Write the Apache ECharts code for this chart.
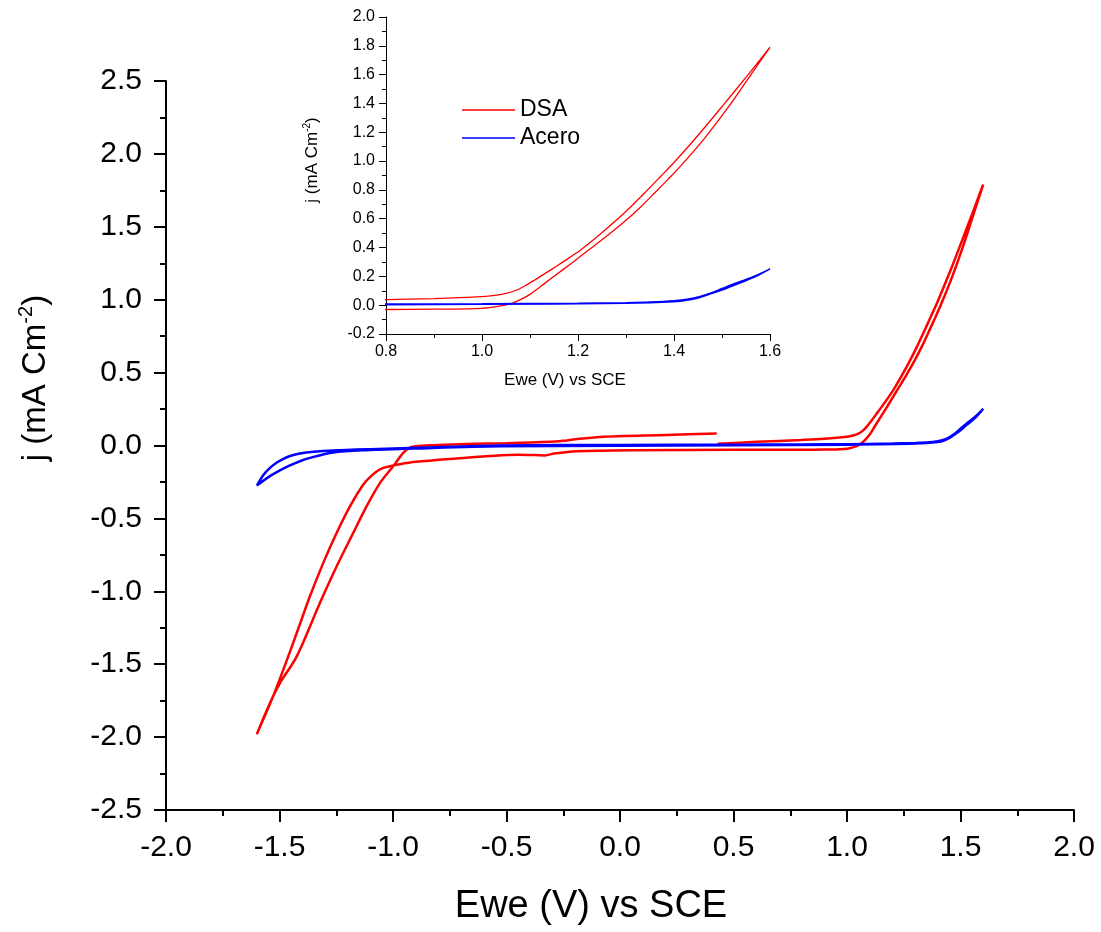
<!DOCTYPE html>
<html>
<head>
<meta charset="utf-8">
<script src="https://cdn.jsdelivr.net/npm/echarts@6/dist/echarts.min.js"></script>
<style>html,body{margin:0;padding:0;background:#fff}#c{width:1101px;height:932px}</style>
</head>
<body>
<div id="c"></div>
<script>
// ---- data (potential V vs SCE, current density mA cm^-2), in scan order ----
const dsaPotential = [
  0.43,0.6,0.8,0.9,1.0,1.03,1.05,1.07,1.09,1.11,1.13,1.155,1.18,1.204,1.238,1.275,1.309,1.342,1.372,1.4,1.453,1.503,1.552,1.6,
  1.556,1.51,1.464,1.415,1.388,1.36,1.33,1.297,1.262,1.225,1.188,1.148,1.12,1.1,1.08,1.06,1.04,1.0,0.9,0.8,0.5,0.06,
  -0.19,-0.29,-0.33,-0.37,-0.45,-0.55,-0.75,-0.9,-0.97,-1.013,-1.045,-1.072,-1.1,-1.131,-1.189,-1.248,-1.307,-1.366,-1.424,-1.483,-1.534,-1.6,
  -1.542,-1.498,-1.424,-1.322,-1.248,-1.175,-1.116,-1.057,-0.999,-0.955,-0.925,-0.9,-0.822,-0.675,-0.5,-0.308,-0.25,-0.206,-0.088,0.206,0.426
];
const dsaCurrent = [
  0.012,0.025,0.038,0.046,0.06,0.07,0.082,0.102,0.135,0.175,0.217,0.27,0.325,0.38,0.47,0.575,0.68,0.79,0.893,0.99,1.19,1.39,1.59,1.79,
  1.58,1.36,1.16,0.97,0.875,0.78,0.68,0.58,0.485,0.39,0.295,0.195,0.125,0.075,0.038,0.01,-0.005,-0.022,-0.028,-0.03,-0.03,-0.032,
  -0.039,-0.055,-0.068,-0.066,-0.064,-0.07,-0.092,-0.112,-0.128,-0.142,-0.155,-0.178,-0.215,-0.268,-0.416,-0.599,-0.805,-1.034,-1.286,-1.537,-1.743,-1.98,
  -1.766,-1.629,-1.446,-1.08,-0.828,-0.599,-0.416,-0.256,-0.142,-0.05,-0.015,-0.005,0.002,0.011,0.016,0.025,0.032,0.041,0.059,0.072,0.082
];
const aceroPotential = [
  -1.6,-1.57,-1.542,-1.51,-1.483,-1.45,-1.41,-1.35,-1.263,-1.1,-0.896,-0.529,0,0.5,0.8,1.0,1.2,1.3,1.35,1.4,1.43,1.454,1.48,1.5,1.525,1.55,1.575,1.6,
  1.57,1.544,1.52,1.5,1.475,1.454,1.43,1.4,1.3,1.0,0.5,0,-0.529,-0.896,-1.116,-1.263,-1.366,-1.41,-1.454,-1.5,-1.542,-1.6
];
const aceroCurrent = [
  -0.275,-0.2,-0.153,-0.115,-0.091,-0.07,-0.055,-0.043,-0.034,-0.025,-0.016,0.0,0.004,0.006,0.007,0.009,0.013,0.017,0.021,0.03,0.042,0.06,0.088,0.115,0.148,0.178,0.212,0.252,
  0.198,0.163,0.132,0.105,0.077,0.054,0.036,0.024,0.013,0.006,0.002,-0.002,-0.005,-0.02,-0.032,-0.048,-0.085,-0.108,-0.137,-0.172,-0.21,-0.275
];
const seriesNames = ['DSA', 'Acero'];
const xTitle = 'Ewe (V) vs SCE';
const mainX = {min: -2.0, max: 2.0, step: 0.5};
const mainY = {min: -2.5, max: 2.5, step: 0.5};
const insetX = {min: 0.8, max: 1.6, step: 0.2};
const insetY = {min: -0.2, max: 2.0, step: 0.2};

const pair = (xs, ys) => xs.map((x, i) => [x, ys[i]]);
const dsaData = pair(dsaPotential, dsaCurrent);
const aceroData = pair(aceroPotential, aceroCurrent);

const FONT = '"Liberation Sans", Arial, sans-serif';
const fmt = v => (Math.round(v * 10) / 10).toFixed(1);

function axis(gridIndex, r, big, isX) {
  return {
    type: 'value', gridIndex, min: r.min, max: r.max, interval: r.step,
    axisLine: {show: true, onZero: false, lineStyle: {color: '#000', width: big ? 2 : 1}},
    axisTick: {show: true, inside: false, length: big ? 12 : 7, lineStyle: {color: '#000', width: big ? 2 : 1}},
    minorTick: {show: true, splitNumber: 2, length: big ? 6 : 4, lineStyle: {color: '#000', width: big ? 2 : 1}},
    splitLine: {show: false}, minorSplitLine: {show: false},
    axisLabel: {
      fontSize: big ? 30 : 16, color: '#000', fontFamily: FONT,
      margin: big ? (isX ? 23 : 24) : (isX ? 10 : 11),
      formatter: fmt, showMinLabel: true, showMaxLabel: true
    }
  };
}

const chart = echarts.init(document.getElementById('c'), null, {renderer: 'canvas'});
const supTitle = (size) => ({
  a: {fontSize: size, fontFamily: FONT, color: '#000', lineHeight: Math.round(size * 1.2)},
  s: {fontSize: Math.round(size * 0.6), fontFamily: FONT, color: '#000', verticalAlign: 'top', lineHeight: Math.round(size * 0.75)}
});
const yTitleText = '{a|j (mA Cm}{s|-2}{a|)}';

chart.setOption({
  animation: false,
  backgroundColor: '#fff',
  grid: [
    {left: 166, right: 27, top: 81, bottom: 122, containLabel: false},
    {left: 386, right: 331, top: 17, bottom: 598, containLabel: false}
  ],
  xAxis: [axis(0, mainX, true, true), axis(1, insetX, false, true)],
  yAxis: [axis(0, mainY, true, false), axis(1, insetY, false, false)],
  legend: {
    data: seriesNames, orient: 'vertical', left: 462, top: 96, padding: 0,
    icon: 'rect', itemWidth: 53, itemHeight: 1.5, itemGap: 0,
    textStyle: {fontSize: 23, fontFamily: FONT, color: '#000', lineHeight: 28}
  },
  series: [
    {name: 'DSA', type: 'line', xAxisIndex: 1, yAxisIndex: 1, data: dsaData, symbol: 'none', smooth: 0.3,
     lineStyle: {color: '#ff0000', width: 1.3}, itemStyle: {color: '#ff0000'}, clip: true, z: 3},
    {name: 'Acero', type: 'line', xAxisIndex: 1, yAxisIndex: 1, data: aceroData, symbol: 'none', smooth: 0.3,
     lineStyle: {color: '#0000ff', width: 1.6}, itemStyle: {color: '#0000ff'}, clip: true, z: 3},
    {name: 'DSA', type: 'line', xAxisIndex: 0, yAxisIndex: 0, data: dsaData, symbol: 'none', smooth: 0.3,
     lineStyle: {color: '#ff0000', width: 2.5}, itemStyle: {color: '#ff0000'}, z: 2},
    {name: 'Acero', type: 'line', xAxisIndex: 0, yAxisIndex: 0, data: aceroData, symbol: 'none', smooth: 0.3,
     lineStyle: {color: '#0000ff', width: 2.5}, itemStyle: {color: '#0000ff'}, z: 2}
  ],
  graphic: [
    {type: 'text', x: 591, y: 907, style: {text: xTitle, fontSize: 38, fontFamily: FONT, fill: '#000',
      align: 'center', verticalAlign: 'middle', textAlign: 'center', textVerticalAlign: 'middle'}},
    {type: 'text', x: 36, y: 378, rotation: Math.PI / 2, style: {text: yTitleText, rich: supTitle(33), fill: '#000',
      align: 'center', verticalAlign: 'middle', textAlign: 'center', textVerticalAlign: 'middle'}},
    {type: 'text', x: 565, y: 380, style: {text: xTitle, fontSize: 17, fontFamily: FONT, fill: '#000',
      align: 'center', verticalAlign: 'middle', textAlign: 'center', textVerticalAlign: 'middle'}},
    {type: 'text', x: 312, y: 160, rotation: Math.PI / 2, style: {text: yTitleText, rich: supTitle(17), fill: '#000',
      align: 'center', verticalAlign: 'middle', textAlign: 'center', textVerticalAlign: 'middle'}}
  ]
});
</script>
</body>
</html>
